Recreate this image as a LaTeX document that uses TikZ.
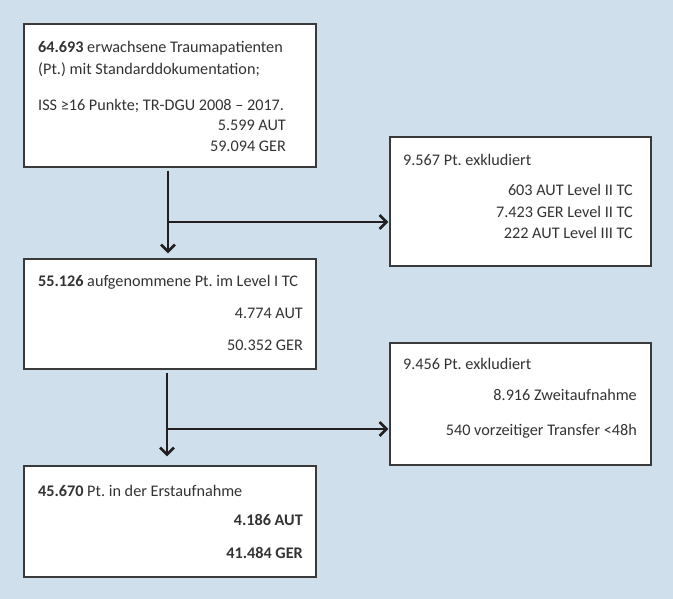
\documentclass[tikz,border=0pt]{standalone}
\usepackage{fontspec}
\setmainfont{Carlito}
\usetikzlibrary{arrows.meta}
\definecolor{bgblue}{HTML}{CFE0EC}
\definecolor{txt}{HTML}{333333}
\definecolor{frame}{HTML}{3A3A3A}
\definecolor{arrc}{HTML}{231F20}
\frenchspacing
\begin{document}
\begin{tikzpicture}[x=1pt,y=-1pt,
  box/.style={draw=frame,line width=1.3pt,fill=white,inner sep=0pt,rectangle},
  lt/.style={anchor=base west,inner sep=0pt,text=txt,font=\fontsize{16.2}{19}\selectfont},
  rt/.style={anchor=base east,inner sep=0pt,text=txt,font=\fontsize{16.2}{19}\selectfont},
  arr/.style={draw=arrc,line width=2.8pt,-{Straight Barb[length=7pt,width=14pt,line width=2.6pt]}},
  ln/.style={draw=arrc,line width=2.8pt}]
\fill[bgblue] (0,0) rectangle (673,599);
\useasboundingbox (0,0) rectangle (673,599);
% boxes
\node[box,minimum width=292pt,minimum height=143pt] (b1) at (170,95.5) {};
\node[box,minimum width=261pt,minimum height=129pt] (b2) at (520.5,201.5) {};
\node[box,minimum width=292pt,minimum height=110pt] (b3) at (170,314) {};
\node[box,minimum width=261pt,minimum height=122pt] (b4) at (520.5,404) {};
\node[box,minimum width=292pt,minimum height=111pt] (b5) at (170,521.5) {};
% box 1 text
\node[lt] (t11) at (38,53) {\textbf{64.693} erwachsene Traumapatienten};
\node[lt] (t12) at (38,75) {(Pt.) mit Standarddokumentation;};
\node[lt] (t13) at (38,111) {ISS ≥16 Punkte; TR-DGU 2008 – 2017.};
\node[rt] (t14) at (286,131) {5.599 AUT};
\node[rt] (t15) at (286,152) {59.094 GER};
% box 2 text
\node[lt] (t21) at (403,166) {9.567 Pt. exkludiert};
\node[rt] (t22) at (633,196) {603 AUT Level II TC};
\node[rt] (t23) at (633,218) {7.423 GER Level II TC};
\node[rt] (t24) at (633,239) {222 AUT Level III TC};
% box 3 text
\node[lt] (t31) at (38,287) {\textbf{55.126} aufgenommene Pt. im Level I TC};
\node[rt] (t32) at (303,318) {4.774 AUT};
\node[rt] (t33) at (303,350) {50.352 GER};
% box 4 text
\node[lt] (t41) at (403,370) {9.456 Pt. exkludiert};
\node[rt] (t42) at (637,400) {8.916 Zweitaufnahme};
\node[rt] (t43) at (637,435) {540 vorzeitiger Transfer <48h};
% box 5 text
\node[lt] (t51) at (38,496) {\textbf{45.670} Pt. in der Erstaufnahme};
\node[rt] (t52) at (303,525) {\textbf{4.186 AUT}};
\node[rt] (t53) at (303,558) {\textbf{41.484 GER}};
% connectors
\coordinate (j1) at (168,222);
\coordinate (j2) at (167,429);
\draw[arr,shorten <=3pt,shorten >=5pt] (b1.south -| j1) -- (b3.north -| j1);
\draw[arr,shorten >=1pt] (j1) -- (j1 -| b2.west);
\draw[arr,shorten <=3pt,shorten >=9pt] (b3.south -| j2) -- (b5.north -| j2);
\draw[arr,shorten >=1pt] (j2) -- (j2 -| b4.west);
\end{tikzpicture}
\end{document}
